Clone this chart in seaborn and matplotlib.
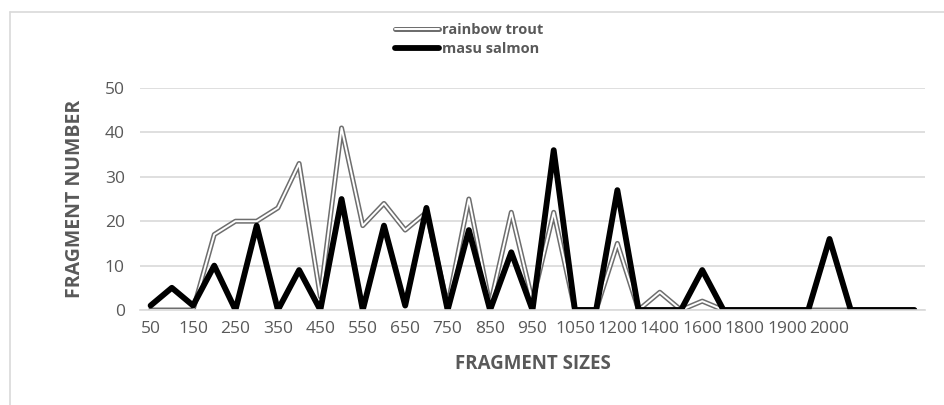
import numpy as np
import pandas as pd
import matplotlib
matplotlib.use("Agg")
import matplotlib.pyplot as plt
import matplotlib.patheffects as pe
import seaborn as sns

sizes = ["50", "100", "150", "200", "250", "300", "350", "400", "450", "500",
         "550", "600", "650", "700", "750", "800", "850", "900", "950", "1000",
         "1050", "1100", "1200", "1300", "1400", "1500", "1600", "1700", "1800", "1850",
         "1900", "1950", "2000", "", "", "", ""]
rainbow_trout = [0, 0, 0, 17, 20, 20, 23, 33, 3, 41,
                 19, 24, 18, 22, 1, 25, 1, 22, 2, 22,
                 0, 0, 15, 0, 4, 0, 2, 0, 0, 0,
                 0, 0, 0, 0, 0, 0, 0]
masu_salmon = [1, 5, 1, 10, 0, 19, 0, 9, 0, 25,
               0, 19, 1, 23, 0, 18, 0, 13, 0, 36,
               0, 0, 27, 0, 0, 0, 9, 0, 0, 0,
               0, 0, 16, 0, 0, 0, 0]

sns.set_theme(style="white")
plt.rcParams["font.family"] = ["Open Sans", "DejaVu Sans"]
grey_txt = "#595959"

df = pd.DataFrame({"pos": np.arange(len(sizes)), "size": sizes,
                   "rainbow trout": rainbow_trout, "masu salmon": masu_salmon})

fig = plt.figure(figsize=(9.44, 4.05), dpi=100)
ax = fig.add_axes([140 / 944, 1 - 310 / 405, 785 / 944, 222 / 405])

sns.lineplot(data=df, x="pos", y="rainbow trout", ax=ax, color="white", linewidth=1.4,
             label="rainbow trout",
             path_effects=[pe.Stroke(linewidth=3.6, foreground="#6e6e6e"), pe.Normal()])
sns.lineplot(data=df, x="pos", y="masu salmon", ax=ax, color="black", linewidth=4.2,
             label="masu salmon", solid_joinstyle="round")

ax.set_ylim(0, 50)
ax.set_yticks(range(0, 51, 10))
ax.set_xlim(-0.5, len(sizes) - 0.5)
ax.grid(axis="y", color="#d9d9d9", linewidth=1.2)
ax.set_axisbelow(True)

labelled = list(range(0, 33, 2))
ax.set_xticks(labelled)
ax.set_xticklabels([sizes[i] for i in labelled])
ax.set_xticks(np.arange(-0.5, len(sizes), 1), minor=True)
ax.tick_params(axis="x", which="major", length=0, pad=8, labelsize=12.5, labelcolor=grey_txt)
ax.tick_params(axis="x", which="minor", length=6, width=1, color="#d9d9d9", direction="out")
ax.tick_params(axis="y", length=0, pad=11, labelsize=12.5, labelcolor=grey_txt)

for s in ["top", "right", "left"]:
    ax.spines[s].set_visible(False)
ax.spines["bottom"].set_color("#d9d9d9")
ax.spines["bottom"].set_linewidth(1.2)

ax.set_xlabel("FRAGMENT SIZES", fontsize=13.5, fontweight="bold", color=grey_txt, labelpad=12)
ax.set_ylabel("FRAGMENT NUMBER", fontsize=14, fontweight="bold", color=grey_txt, labelpad=14)

ax.get_legend().remove()
handles, labels = ax.get_legend_handles_labels()
leg = fig.legend(handles, labels, loc="upper center", bbox_to_anchor=(0.497, 0.975),
                 frameon=False, handlelength=3.0, handletextpad=0.2, labelspacing=0.3,
                 prop={"weight": "bold", "size": 10.5})
for t in leg.get_texts():
    t.set_color(grey_txt)

# chart area border
fig.add_artist(plt.Line2D([10 / 944, 1], [1 - 12 / 405] * 2, color="#d9d9d9", linewidth=1.2,
                          transform=fig.transFigure))
fig.add_artist(plt.Line2D([10 / 944] * 2, [0, 1 - 12 / 405], color="#d9d9d9", linewidth=1.2,
                          transform=fig.transFigure))

fig.savefig("out.png", dpi=100)
